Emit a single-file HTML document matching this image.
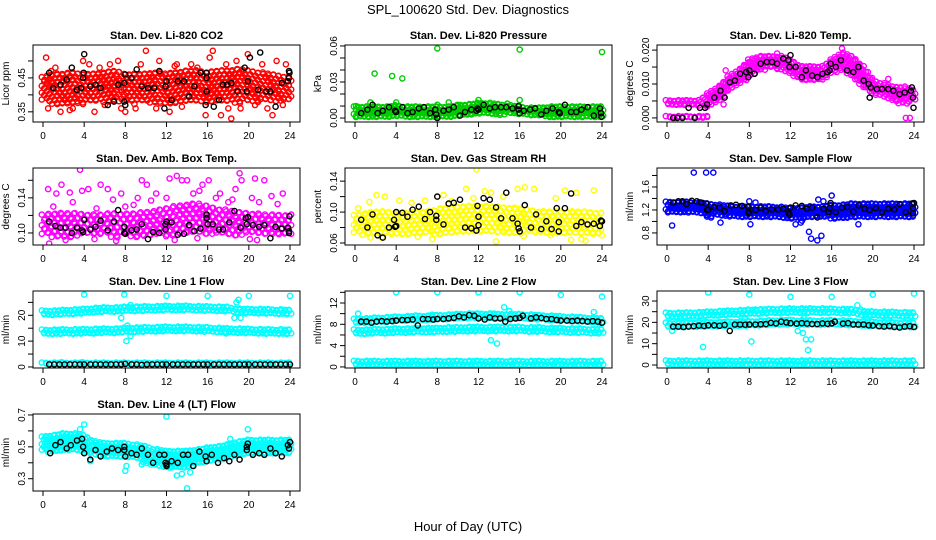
<!DOCTYPE html>
<html><head><meta charset="utf-8"><style>
html,body{margin:0;padding:0;background:#fff}
svg{display:block;font-family:"Liberation Sans",sans-serif}
</style></head><body>
<svg id="chart" width="936" height="540" viewBox="0 0 936 540" xmlns="http://www.w3.org/2000/svg">
<text x="468" y="14" text-anchor="middle" font-size="13">SPL_100620  Std. Dev. Diagnostics</text>
<text x="468" y="531" text-anchor="middle" font-size="13">Hour of Day (UTC)</text>
</svg>
<script>
// ---- CO2 ----
const co2Lo=[0.38,0.375,0.375,0.37,0.375,0.38,0.38,0.375,0.38,0.375,0.38,0.375,0.37,0.38,0.38,0.375,0.37,0.375,0.38,0.375,0.38,0.38,0.38,0.38,0.38];
const co2Hi=[0.45,0.46,0.46,0.465,0.46,0.46,0.465,0.47,0.46,0.46,0.46,0.465,0.46,0.465,0.47,0.47,0.465,0.47,0.47,0.475,0.47,0.465,0.46,0.455,0.45];
const co2Out=[[0.3,0.51],[0.5,0.36],[1.7,0.35],[2.6,0.355],[3.9,0.5],[5,0.35],[6.5,0.49],[7.3,0.5],[8,0.35],[10,0.53],[11.3,0.5],[12.3,0.35],[13,0.49],[15.8,0.34],[16.5,0.53],[16.2,0.51],[17.3,0.34],[18.3,0.33],[18.8,0.5],[19.9,0.52],[21.3,0.49],[22.3,0.34],[22.7,0.5],[9,0.36],[14.4,0.49],[1.2,0.48],[2.9,0.36],[4.5,0.49],[6,0.37],[7.6,0.36],[9.5,0.49],[11,0.36],[13.5,0.365],[15,0.48],[17.8,0.49],[19.2,0.36],[20.6,0.37],[21.8,0.36],[23.3,0.37],[23.6,0.49],[0.8,0.47],[5.5,0.48],[12.8,0.485],[18,0.36]];
const co2Blk=[[0.6,0.465],[1,0.42],[1.7,0.43],[2.3,0.445],[2.8,0.48],[3.3,0.415],[3.7,0.42],[3.9,0.45],[3.95,0.465],[4,0.52],[4.6,0.425],[5.1,0.43],[5.6,0.42],[6.3,0.37],[6.9,0.38],[7.3,0.43],[7.9,0.38],[7.9,0.435],[8.0,0.46],[8,0.37],[8.6,0.45],[9.1,0.475],[9.6,0.425],[10.2,0.42],[10.8,0.42],[11.3,0.47],[11.8,0.36],[11.9,0.425],[12,0.44],[12.5,0.385],[13.1,0.44],[13.7,0.44],[14.2,0.395],[14.7,0.425],[15.3,0.465],[15.9,0.465],[15.9,0.45],[15.9,0.41],[15.8,0.37],[16.6,0.365],[17.1,0.385],[17.5,0.43],[17.9,0.43],[18.3,0.435],[18.9,0.41],[19.6,0.48],[19.8,0.41],[19.9,0.44],[20.1,0.51],[20.9,0.415],[21.1,0.525],[21.7,0.41],[22.1,0.41],[22.6,0.365],[23.2,0.435],[23.8,0.44],[23.9,0.47],[23.9,0.45],[23.95,0.465]];
// ---- Pressure ----
const presLo=[0.001,0.001,0.001,0.001,0.001,0.001,0.001,0.001,0.001,0.001,0.001,0.002,0.003,0.003,0.003,0.003,0.002,0.001,0.001,0.001,0.001,0.001,0.001,0.001,0.001];
const presHi=[0.009,0.009,0.009,0.009,0.01,0.009,0.009,0.009,0.009,0.009,0.01,0.011,0.012,0.012,0.011,0.01,0.009,0.008,0.008,0.009,0.009,0.009,0.009,0.009,0.009];
const presOut=[[1.9,0.037],[3.6,0.035],[4.6,0.033],[8,0.058],[16,0.057],[24,0.055],[12,0.015],[16,0.015],[4,0.013],[1.5,0.013],[9.1,0.013],[0.1,0.01],[8,0.011],[10,0.011],[14.8,0.012]];
const presBlk=[[0.6,0.004],[1.2,0.007],[1.7,0.011],[2.2,0.004],[2.7,0.006],[3.3,0.009],[3.9,0.006],[4,0.005],[4.6,0.009],[5.1,0.004],[5.6,0.005],[6.2,0.008],[6.7,0.009],[7.3,0.004],[7.8,0.007],[7.9,0.003],[8,0.0],[8.6,0.006],[9.1,0.007],[9.6,0.009],[10.2,0.002],[10.7,0.005],[11.3,0.007],[11.8,0.006],[11.9,0.008],[12,0.007],[12.5,0.011],[13.1,0.008],[13.6,0.009],[14.2,0.009],[14.7,0.009],[15.3,0.008],[15.9,0.01],[15.9,0.007],[16,0.004],[16.4,0.006],[17,0.007],[17.5,0.008],[18.1,0.003],[18.6,0.006],[19.2,0.008],[19.8,0.005],[19.9,0.004],[20.4,0.011],[21,0.005],[21.5,0.005],[22,0.007],[22.6,0.009],[23.2,0.002],[23.8,0.008],[23.9,0.004],[23.95,0.001]];
// ---- Li-820 Temp ----
const tempLo=[0.0035,0.0035,0.0035,0.0035,0.003,0.005,0.008,0.01,0.012,0.014,0.015,0.014,0.013,0.011,0.011,0.011,0.013,0.014,0.012,0.009,0.007,0.006,0.005,0.004,0.005];
const tempHi=[0.005,0.005,0.005,0.005,0.007,0.009,0.012,0.014,0.017,0.018,0.018,0.018,0.017,0.015,0.015,0.015,0.017,0.019,0.018,0.015,0.011,0.01,0.009,0.009,0.008];
const tempZeroLo=[0,0,0,0,0,null,null,null,null,null,null,null,null,null,null,null,null,null,null,null,null,null,null,null,null];
const tempZeroHi=[0.0003,0.0003,0.0003,0.0003,0.0003,null,null,null,null,null,null,null,null,null,null,null,null,null,null,null,null,null,null,null,null];
const tempOut=[[5.7,0.014],[5.5,0.004],[17,0.0205],[23.2,0.0],[23.6,0.0],[10.7,0.019],[22.3,0.005],[21.5,0.0115]];
const tempBlk=[[0.6,0],[1,0],[1.5,0],[2.1,0.003],[2.7,0],[3.2,0.003],[3.7,0.003],[3.9,0.004],[4.6,0.006],[5.2,0.008],[5.6,0.006],[6.1,0.0105],[6.6,0.011],[7.1,0.013],[7.7,0.0135],[7.9,0.012],[8,0.014],[8.5,0.013],[9.1,0.016],[9.7,0.0165],[10.2,0.0165],[10.7,0.016],[11.3,0.0175],[11.8,0.017],[11.9,0.015],[12,0.0185],[12.5,0.015],[13.1,0.012],[13.5,0.014],[14.1,0.0125],[14.6,0.012],[15.1,0.013],[15.6,0.0135],[15.8,0.014],[15.9,0.016],[16.4,0.015],[16.9,0.017],[17.5,0.014],[18.1,0.0135],[18.6,0.015],[19.1,0.011],[19.6,0.01],[19.7,0.006],[19.8,0.009],[20.4,0.0085],[20.9,0.0085],[21.5,0.0085],[22.0,0.008],[22.6,0.007],[23.1,0.0075],[23.7,0.008],[23.8,0.009],[23.9,0.006],[23.95,0.003]];
// ---- Amb Box Temp ----
const ambLo=[0.097,0.096,0.096,0.096,0.096,0.096,0.096,0.096,0.096,0.096,0.096,0.096,0.096,0.097,0.098,0.098,0.098,0.097,0.097,0.097,0.097,0.097,0.097,0.097,0.097];
const ambHi=[0.12,0.122,0.122,0.122,0.121,0.12,0.121,0.122,0.121,0.122,0.123,0.125,0.128,0.13,0.132,0.133,0.13,0.127,0.125,0.123,0.122,0.121,0.12,0.12,0.12];
const ambOut=[[0.5,0.15],[0.6,0.088],[1.3,0.145],[1.8,0.155],[2.6,0.146],[3.6,0.172],[3.8,0.148],[4.4,0.15],[5.6,0.155],[6.3,0.15],[7.6,0.145],[8,0.13],[9.2,0.14],[9.6,0.16],[10.1,0.155],[11.0,0.145],[12.3,0.162],[13.0,0.165],[13.5,0.16],[14,0.16],[15.5,0.155],[16.1,0.16],[17.2,0.145],[18.0,0.135],[18.7,0.15],[19.1,0.168],[19.3,0.16],[20.3,0.14],[20.6,0.162],[21.5,0.16],[22.2,0.142],[23.3,0.145],[2.2,0.092],[5,0.093],[7.1,0.091],[12.8,0.092],[20.1,0.093],[20.8,0.092],[15,0.094],[1,0.13],[2.9,0.135],[5.2,0.128],[6.8,0.138],[8.8,0.132],[10.5,0.137],[12,0.14],[14.6,0.145],[15.2,0.148],[16.8,0.14],[18.4,0.138],[21,0.135],[22.8,0.133]];
const ambBlk=[[0.6,0.113],[1.2,0.108],[1.7,0.106],[2.2,0.106],[2.8,0.1],[3.3,0.106],[3.8,0.103],[3.9,0.101],[4,0.115],[4.6,0.104],[5.1,0.107],[5.6,0.114],[6.3,0.103],[6.9,0.113],[7.3,0.126],[7.9,0.107],[7.9,0.1],[8,0.099],[8.6,0.103],[9.1,0.104],[9.6,0.11],[10.2,0.093],[10.7,0.101],[11.3,0.1],[11.9,0.104],[11.9,0.11],[12,0.113],[12.5,0.112],[13.1,0.098],[13.7,0.099],[14.2,0.109],[14.7,0.102],[15.3,0.105],[15.9,0.121],[15.9,0.117],[16,0.11],[16.5,0.11],[17.1,0.104],[17.5,0.104],[18.1,0.112],[18.6,0.125],[19.2,0.106],[19.7,0.117],[19.8,0.11],[19.9,0.118],[20.4,0.109],[21,0.107],[21.5,0.109],[22.1,0.094],[22.6,0.107],[23.2,0.105],[23.8,0.106],[23.9,0.1],[23.95,0.119],[23.9,0.102]];
// ---- Gas Stream RH ----
const rhLo=[0.072,0.071,0.071,0.071,0.071,0.071,0.071,0.071,0.071,0.071,0.072,0.072,0.072,0.072,0.072,0.072,0.072,0.072,0.072,0.072,0.072,0.072,0.072,0.072,0.072];
const rhHi=[0.095,0.098,0.1,0.1,0.098,0.098,0.1,0.1,0.103,0.105,0.106,0.107,0.107,0.107,0.106,0.105,0.104,0.102,0.1,0.1,0.1,0.1,0.1,0.099,0.098];
const rhOut=[[0.3,0.105],[1.4,0.113],[2.1,0.122],[2.6,0.067],[2.9,0.12],[4.3,0.115],[5.5,0.112],[6.8,0.115],[7.5,0.065],[8.6,0.122],[9.4,0.114],[10.8,0.13],[11.5,0.118],[11.8,0.155],[12.6,0.127],[13.2,0.125],[13.7,0.062],[14.4,0.12],[15.8,0.13],[16.5,0.132],[17.4,0.13],[19.5,0.118],[20.4,0.128],[21.5,0.125],[22.0,0.065],[22.4,0.063],[23.2,0.128],[24,0.07],[1.5,0.067],[6.1,0.068],[16.4,0.069],[19,0.07],[21,0.064]];
const rhBlk=[[0.6,0.09],[1.2,0.08],[1.7,0.097],[2.2,0.07],[2.7,0.067],[3.3,0.08],[3.8,0.09],[3.9,0.081],[4,0.1],[4.0,0.082],[4.6,0.099],[5.1,0.094],[5.6,0.103],[6.2,0.107],[6.8,0.091],[7.3,0.1],[7.9,0.095],[7.9,0.09],[8,0.12],[8.6,0.084],[9.1,0.111],[9.6,0.112],[10.2,0.116],[10.7,0.08],[11.3,0.079],[11.8,0.076],[11.9,0.108],[12,0.094],[12,0.083],[12.5,0.118],[13.1,0.116],[13.7,0.106],[14.2,0.092],[14.7,0.125],[15.3,0.092],[15.8,0.085],[15.9,0.079],[16,0.075],[16.5,0.109],[17.1,0.08],[17.6,0.097],[18.1,0.078],[18.6,0.088],[19.1,0.078],[19.6,0.105],[19.8,0.087],[19.8,0.075],[20.4,0.105],[21,0.124],[21.5,0.082],[22.0,0.087],[22.6,0.084],[23.2,0.085],[23.8,0.082],[23.9,0.089],[24,0.088]];
// ---- Sample Flow ----
const sfLo=[1.15,1.15,1.15,1.15,1.08,1.08,1.08,1.08,1.08,1.08,1.08,1.07,1.02,1.02,1.06,1.06,1.06,1.06,1.06,1.06,1.06,1.06,1.06,1.06,1.06];
const sfHi=[1.33,1.33,1.33,1.32,1.3,1.28,1.26,1.25,1.25,1.25,1.25,1.24,1.22,1.23,1.25,1.25,1.27,1.28,1.3,1.3,1.3,1.3,1.3,1.3,1.3];
const sfOut=[[2.6,1.85],[3.8,1.85],[4.5,1.85],[0.5,0.93],[14.6,0.67],[14,0.7],[15,0.75],[13.8,0.82],[8,1.35],[16,1.45],[18.6,0.95],[8.1,0.95],[12.5,0.95],[8.6,1.33],[14.7,1.38],[15.2,1.35],[5.2,0.98],[13,0.98]];
const sfBlk=[[0.6,1.33],[1.1,1.35],[1.5,1.35],[1.9,1.3],[2.4,1.36],[2.9,1.35],[3.3,1.33],[3.8,1.31],[3.9,1.2],[4,1.21],[4.6,1.25],[5.1,1.24],[5.6,1.18],[6.2,1.28],[6.7,1.29],[7.3,1.27],[7.9,1.25],[7.9,1.17],[8,1.14],[8.6,1.2],[9.1,1.24],[9.6,1.18],[10.2,1.21],[10.8,1.21],[11.3,1.22],[11.8,1.15],[11.9,1.12],[12,1.24],[12.5,1.28],[13.1,1.27],[13.6,1.22],[14.1,1.24],[14.6,1.07],[15.2,1.22],[15.7,1.16],[15.8,1.23],[15.9,1.32],[16.4,1.16],[17,1.24],[17.5,1.25],[18.1,1.17],[18.6,1.28],[19.2,1.22],[19.7,1.2],[20.3,1.23],[20.9,1.16],[21.5,1.22],[22.1,1.21],[22.6,1.3],[23.2,1.16],[23.8,1.31],[23.9,1.14],[23.9,1.23],[24,1.32]];
// ---- Line 1 ----
const l1aLo=[0.4,0.4,0.4,0.4,0.4,0.4,0.4,0.4,0.4,0.4,0.4,0.4,0.4,0.4,0.4,0.4,0.4,0.4,0.4,0.4,0.4,0.4,0.4,0.4,0.4];
const l1aHi=[1.4,1.4,1.4,1.4,1.4,1.4,1.4,1.4,1.4,1.4,1.4,1.4,1.4,1.4,1.4,1.4,1.4,1.4,1.4,1.4,1.4,1.4,1.4,1.4,1.4];
const l1bLo=[12.6,12.6,12.7,12.7,12.8,12.9,13,13,13.2,13.3,13.4,13.5,13.6,13.6,13.6,13.5,13.4,13.3,13.1,13,12.9,12.8,12.7,12.7,12.6];
const l1bHi=[14.2,14.2,14.3,14.3,14.4,14.5,14.6,14.6,14.9,15,15.1,15.2,15.3,15.3,15.3,15.2,15.1,14.9,14.7,14.6,14.5,14.4,14.3,14.3,14.2];
const l1cLo=[20,20,20.2,20.4,20.6,21,21.2,21.2,21.3,21.5,21.6,21.7,21.8,21.8,21.8,21.7,21.6,21.5,21.4,20.7,20.6,20.6,20.5,20.4,20.2];
const l1cHi=[21.6,21.6,21.8,22,22.2,22.6,22.8,22.8,23,23.1,23.2,23.3,23.4,23.4,23.4,23.3,23.2,23.1,23,22.3,22.2,22.2,22.1,22,21.8];
const l1Out=[[4,28],[7.9,28],[12,27.5],[16,27.5],[20,27.5],[24,27.5],[8.1,10],[8.5,12],[8.2,16],[8.5,24],[18.6,19],[18.8,25],[19,26],[19.2,19],[17.8,13],[7.6,19],[3.8,1.8],[1.8,1.8]];
const l1Blk=[[0.6,1],[1.1,1],[1.6,1],[2.1,1],[2.6,1],[3.1,1],[3.6,1],[4,1],[4.6,1],[5.1,1],[5.6,1],[6.1,1],[6.6,1],[7.1,1],[7.6,1],[8,1.2],[8.6,1],[9.1,1],[9.6,0.8],[10.1,1],[10.6,1],[11.1,1],[11.6,1],[12,1],[12.6,1],[13.1,1],[13.6,1],[14.1,1],[14.6,1],[15.1,1],[15.6,1],[16,1],[16.6,1],[17.1,1],[17.6,1],[18.1,1],[18.6,1],[19.1,1],[19.6,1],[20,1],[20.6,1],[21.1,1],[21.6,1],[22.1,1],[22.6,1],[23.1,1],[23.6,1],[24,1]];
// ---- Line 2 ----
const l2aLo=[0.3,0.3,0.3,0.3,0.3,0.3,0.3,0.3,0.3,0.3,0.3,0.3,0.3,0.3,0.3,0.3,0.3,0.3,0.3,0.3,0.3,0.3,0.3,0.3,0.3];
const l2aHi=[1.0,1.0,1.0,1.0,1.0,1.0,1.0,1.0,1.0,1.0,1.0,1.0,1.0,1.0,1.0,1.0,1.0,1.0,1.0,1.0,1.0,1.0,1.0,1.0,1.0];
const l2bLo=[6.0,6.0,6.1,6.1,6.2,6.2,6.3,6.3,6.3,6.4,6.4,6.5,6.5,6.5,6.5,6.5,6.5,6.4,6.4,6.3,6.3,6.2,6.2,6.1,6.1];
const l2bHi=[6.9,6.9,7.0,7.0,7.1,7.1,7.2,7.2,7.2,7.3,7.3,7.4,7.4,7.4,7.4,7.4,7.4,7.3,7.3,7.2,7.2,7.1,7.1,7.0,7.0];
const l2cLo=[8.0,8.0,8.1,8.2,8.3,8.4,8.5,8.5,8.6,8.7,8.8,8.9,8.9,8.9,8.8,8.8,8.8,8.7,8.6,8.5,8.4,8.3,8.2,8.1,8.0];
const l2cHi=[8.9,9.0,9.1,9.2,9.3,9.4,9.5,9.5,9.6,9.7,9.8,9.9,9.9,9.9,9.8,9.8,9.8,9.7,9.6,9.5,9.4,9.3,9.2,9.1,9.0];
const l2Out=[[0.3,10],[4,14],[8,14],[12,14],[16,14],[20,13.5],[24,13.2],[13.2,5],[13.8,4.4],[14.5,11.2],[15,10.5],[23.2,10.3],[13.5,10],[7.5,9.8]];
const l2Blk=[[0.6,8.5],[1.1,8.5],[1.6,8.3],[2.1,8.5],[2.6,8.6],[3.1,8.5],[3.6,8.6],[4,8.7],[4.6,8.8],[5.1,8.8],[5.6,8.9],[6.1,7.8],[6.6,9],[7.1,9],[7.6,8.9],[8,9],[8.6,9],[9.1,9.1],[9.6,9.2],[10.1,9.5],[10.6,9.3],[11.1,9.7],[11.6,9.6],[12,9.1],[12.6,8.9],[13.1,9.3],[13.6,9.1],[14.1,9.1],[14.6,8.5],[15.1,9],[15.6,9.1],[16,9.2],[16.3,9.6],[17.1,9.1],[17.6,9.3],[18.1,9.2],[18.6,9],[19.1,9],[19.6,8.8],[20,8.7],[20.6,8.7],[21.1,8.6],[21.6,8.7],[22.1,8.6],[22.6,8.5],[23.1,8.6],[23.6,8.5],[24,8.3]];
// ---- Line 3 ----
const l3aLo=[0.3,0.3,0.3,0.3,0.3,0.3,0.3,0.3,0.3,0.3,0.3,0.3,0.3,0.3,0.3,0.3,0.3,0.3,0.3,0.3,0.3,0.3,0.3,0.3,0.3];
const l3aHi=[1.8,1.8,1.8,1.8,1.8,1.8,1.8,1.8,1.8,1.8,1.8,1.8,1.8,1.8,1.8,1.8,1.8,1.8,1.8,1.8,1.8,1.8,1.8,1.8,1.8];
const l3bLo=[17.3,17.3,17.4,17.5,17.6,17.7,17.8,17.9,18,18.1,18.3,18.5,18.5,18.4,18.3,18.3,18.4,18.3,18.1,17.9,17.7,17.6,17.5,17.4,17.3];
const l3bHi=[19.5,19.5,19.6,19.7,19.8,19.9,20,20.1,20.2,20.4,20.6,20.8,20.8,20.7,20.6,20.6,20.7,20.6,20.4,20.2,20,19.8,19.7,19.6,19.5];
const l3cLo=[22.2,22.2,22.3,22.5,22.7,23,23.2,23.4,23.6,23.8,24,24.1,24.2,24.2,24.2,24.2,24.1,24,23.9,23,22.8,22.7,22.6,22.5,22.3];
const l3cHi=[24.2,24.2,24.3,24.5,24.7,25,25.2,25.4,25.6,25.8,26,26.1,26.2,26.2,26.2,26.2,26.1,26,25.9,25,24.8,24.7,24.6,24.5,24.3];
const l3Out=[[4,34],[8,33],[12,32],[16,32],[20,33],[24,33.5],[3.5,8.5],[8.2,11],[8.6,26],[12.7,16],[13.2,15],[13.5,12],[13.7,7],[14,12],[18.5,28],[18.8,26],[0.5,16],[7.6,22],[13.3,22]];
const l3Blk=[[0.6,18],[1.1,18],[1.6,17.8],[2.1,18],[2.6,18.2],[3.1,18.5],[3.6,18.3],[4,18.6],[4.6,18.6],[5.1,18.4],[5.6,18.8],[6.1,16],[6.6,19],[7.1,19],[7.6,18.9],[8,19],[8.6,19],[9.1,19.1],[9.6,19.2],[10.1,19.8],[10.6,19.5],[11.1,20.3],[11.6,20],[12,19.6],[12.6,19.4],[13.1,19.6],[13.6,19.4],[14.1,19.2],[14.6,19.2],[15.1,19.5],[15.6,19.3],[16,19.5],[16.3,20.3],[17.1,19.4],[17.6,19.6],[18.1,19],[18.6,19],[19.1,19],[19.6,18.6],[20,18.5],[20.6,18.2],[21.1,18],[21.6,18.3],[22.1,17.8],[22.6,17.6],[23.1,18],[23.6,18.2],[24,17.8]];
// ---- Line 4 ----
const l4Lo=[0.47,0.47,0.48,0.48,0.47,0.44,0.43,0.43,0.43,0.42,0.4,0.38,0.36,0.36,0.37,0.39,0.4,0.41,0.42,0.44,0.45,0.45,0.45,0.46,0.46];
const l4Hi=[0.56,0.57,0.58,0.58,0.57,0.53,0.52,0.52,0.52,0.51,0.5,0.48,0.47,0.47,0.47,0.48,0.49,0.5,0.51,0.53,0.54,0.54,0.54,0.54,0.54];
const l4Out=[[12,0.69],[14,0.24],[19.9,0.61],[4,0.64],[3.6,0.61],[13,0.32],[8,0.35],[8.1,0.38],[13.5,0.33],[14.3,0.34],[18.2,0.55],[9.6,0.39],[4.6,0.41],[12.3,0.37]];
const l4Blk=[[0.7,0.46],[1.2,0.51],[1.7,0.53],[2.3,0.49],[2.7,0.51],[3.3,0.54],[3.8,0.55],[3.9,0.5],[4,0.46],[4.6,0.42],[5.1,0.48],[5.6,0.44],[6.2,0.47],[6.7,0.49],[7.3,0.48],[7.9,0.5],[7.9,0.48],[8,0.44],[8.6,0.46],[9.1,0.45],[9.6,0.49],[10.2,0.45],[10.7,0.4],[11.3,0.45],[11.8,0.45],[11.9,0.4],[12,0.38],[12,0.39],[12.5,0.41],[13.1,0.4],[13.6,0.45],[14.1,0.45],[14.6,0.38],[15.2,0.47],[15.8,0.44],[15.9,0.41],[16.4,0.45],[17,0.4],[17.6,0.43],[18.1,0.41],[18.6,0.45],[19.1,0.42],[19.8,0.48],[19.8,0.5],[19.9,0.52],[20.4,0.45],[21,0.46],[21.5,0.45],[22.1,0.49],[22.6,0.46],[23.2,0.44],[23.8,0.51],[23.9,0.49],[24,0.53]];
// axis tick labels
const xTicks=[0,4,8,12,16,20,24];

const panels=[
 {id:'co2',title:'Stan. Dev. Li-820 CO2',ylab:'Licor ppm',c:0,r:0,y0:0.32,y1:0.547,ticks:[0.35,0.40,0.45,0.50],labels:{'0.35':'0.35','0.45':'0.45'},col:'#ff0000',dx:0.25,dy:3.6,bands:[[co2Lo,co2Hi]],out:co2Out,blk:co2Blk},
 {id:'pressure',title:'Stan. Dev. Li-820 Pressure',ylab:'kPa',c:1,r:0,y0:-0.0033,y1:0.0608,ticks:[0,0.01,0.02,0.03,0.04,0.05,0.06],labels:{'0':'0.00','0.03':'0.03','0.06':'0.06'},col:'#00cd00',dx:0.2,dy:3,bands:[[presLo,presHi]],out:presOut,blk:presBlk},
 {id:'temp',title:'Stan. Dev. Li-820 Temp.',ylab:'degrees C',c:2,r:0,y0:-0.0012,y1:0.0215,ticks:[0,0.005,0.01,0.015,0.02],labels:{'0':'0.000','0.01':'0.010','0.02':'0.020'},col:'#ff00ff',dx:0.2,dy:3,bands:[[tempLo,tempHi],[tempZeroLo,tempZeroHi]],out:tempOut,blk:tempBlk},
 {id:'ambbox',title:'Stan. Dev. Amb. Box Temp.',ylab:'degrees C',c:0,r:1,y0:0.0863,y1:0.174,ticks:[0.10,0.12,0.14,0.16],labels:{'0.1':'0.10','0.14':'0.14'},col:'#ff00ff',dx:0.32,dy:4.5,bands:[[ambLo,ambHi]],out:ambOut,blk:ambBlk},
 {id:'rh',title:'Stan. Dev. Gas Stream RH',ylab:'percent',c:1,r:1,y0:0.0574,y1:0.157,ticks:[0.06,0.08,0.10,0.12,0.14],labels:{'0.06':'0.06','0.1':'0.10','0.14':'0.14'},col:'#ffff00',dx:0.28,dy:4,bands:[[rhLo,rhHi]],out:rhOut,blk:rhBlk},
 {id:'sampleflow',title:'Stan. Dev. Sample Flow',ylab:'ml/min',c:2,r:1,y0:0.59,y1:1.93,ticks:[0.8,1.0,1.2,1.4,1.6,1.8],labels:{'0.8':'0.8','1.2':'1.2','1.6':'1.6'},col:'#0000ff',dx:0.2,dy:3,bands:[[sfLo,sfHi]],out:sfOut,blk:sfBlk},
 {id:'line1',title:'Stan. Dev. Line 1 Flow',ylab:'ml/min',c:0,r:2,y0:-0.4,y1:29.4,ticks:[0,5,10,15,20,25],labels:{'0':'0','10':'10','20':'20'},col:'#00ffff',dx:0.2,dy:3,bands:[[l1aLo,l1aHi],[l1bLo,l1bHi],[l1cLo,l1cHi]],out:l1Out,blk:l1Blk},
 {id:'line2',title:'Stan. Dev. Line 2 Flow',ylab:'ml/min',c:1,r:2,y0:-0.2,y1:14.25,ticks:[0,2,4,6,8,10,12,14],labels:{'0':'0','4':'4','8':'8','12':'12'},col:'#00ffff',dx:0.2,dy:3,bands:[[l2aLo,l2aHi],[l2bLo,l2bHi],[l2cLo,l2cHi]],out:l2Out,blk:l2Blk},
 {id:'line3',title:'Stan. Dev. Line 3 Flow',ylab:'ml/min',c:2,r:2,y0:-1.4,y1:34.7,ticks:[0,5,10,15,20,25,30],labels:{'0':'0','10':'10','20':'20','30':'30'},col:'#00ffff',dx:0.2,dy:3,bands:[[l3aLo,l3aHi],[l3bLo,l3bHi],[l3cLo,l3cHi]],out:l3Out,blk:l3Blk},
 {id:'line4',title:'Stan. Dev. Line 4 (LT) Flow',ylab:'ml/min',c:0,r:3,y0:0.223,y1:0.706,ticks:[0.3,0.4,0.5,0.6,0.7],labels:{'0.3':'0.3','0.5':'0.5','0.7':'0.7'},col:'#00ffff',dx:0.2,dy:3,bands:[[l4Lo,l4Hi]],out:l4Out,blk:l4Blk}
];
const NS='http://www.w3.org/2000/svg';
const svg=document.getElementById('chart');
function mk(tag,attrs,parent){const e=document.createElementNS(NS,tag);for(const k in attrs)e.setAttribute(k,attrs[k]);parent.appendChild(e);return e;}
const rowTops=[45,168,291,414];
panels.forEach(p=>{
  const left=33+312*p.c, right=left+267, top=rowTops[p.r], bottom=top+77;
  const xs=h=>left+10+h*(247/24);
  const ys=v=>bottom-(v-p.y0)/(p.y1-p.y0)*(bottom-top);
  const g=mk('g',{},svg);
  
  
  const clip=mk('clipPath',{id:'clip-'+p.id},g);
  mk('rect',{x:left,y:top,width:right-left,height:bottom-top},clip);
  const pts=mk('g',{'clip-path':'url(#clip-'+p.id+')',fill:'none','stroke-width':1.4},g);
  
  
  const circ=(x,y,col)=>mk('circle',{cx:x.toFixed(1),cy:y.toFixed(1),r:2.6,stroke:col},pts);
  p.bands.forEach(([lo,hi])=>{
    let k=0;
    for(let h=0;h<=24.001;h+=p.dx){
      const i=Math.min(23,Math.floor(h)),f=h-i;
      if(lo[i]==null||(lo[i+1]==null&&f>0.01)){k++;continue;}
      const l=lo[i]+((lo[i+1]??lo[i])-lo[i])*f, u=hi[i]+((hi[i+1]??hi[i])-hi[i])*f;
      const pyTop=ys(u), pyBot=ys(l);
      let j=0;
      for(let py=pyTop;py<=pyBot+0.01;py+=p.dy){
        circ(xs(h)+((j+k)%2?1.2:-1.2),py+((j*7+k*3)%5-2)*0.4,p.col);j++;
      }
      k++;
    }
  });
  p.out.forEach(([h,v])=>circ(xs(h),ys(v),p.col));
  p.blk.forEach(([h,v])=>circ(xs(h),ys(v),'#000'));
  const box=mk('rect',{x:left,y:top,width:right-left,height:bottom-top,fill:'none',stroke:'#000','stroke-width':1},g);
  
  
  const xa=mk('g',{stroke:'#000','stroke-width':1},g);
  
  
  xTicks.forEach(t=>{
    mk('line',{x1:xs(t),x2:xs(t),y1:bottom,y2:bottom+5},xa);
    const tx=mk('text',{x:xs(t),y:bottom+17,'text-anchor':'middle','font-size':10,stroke:'none',fill:'#000'},xa);
    tx.textContent=String(t);
  });
  mk('line',{x1:xs(0),x2:xs(24),y1:bottom,y2:bottom},xa);
  const ya=mk('g',{stroke:'#000','stroke-width':1},g);
  
  
  p.ticks.forEach(t=>{
    const y=ys(t);
    mk('line',{x1:left-5,x2:left,y1:y,y2:y},ya);
    const key=String(+t.toFixed(4));
    if(p.labels[key]!==undefined){
      const tx=mk('text',{x:left-8,y:y,'text-anchor':'middle','font-size':10,stroke:'none',fill:'#000',transform:`rotate(-90 ${left-8} ${y})`},ya);
      tx.textContent=p.labels[key];
    }
  });
  mk('line',{x1:left,x2:left,y1:ys(p.ticks[0]),y2:ys(p.ticks[p.ticks.length-1])},ya);
  const yl=mk('text',{x:left-24,y:(top+bottom)/2,'text-anchor':'middle','font-size':10,transform:`rotate(-90 ${left-24} ${(top+bottom)/2})`},g);
  
  
  yl.textContent=p.ylab;
  const tt=mk('text',{x:(left+right)/2,y:top-6,'text-anchor':'middle','font-size':11,'font-weight':'bold'},g);
  
  
  tt.textContent=p.title;
});
</script>
</body></html>
